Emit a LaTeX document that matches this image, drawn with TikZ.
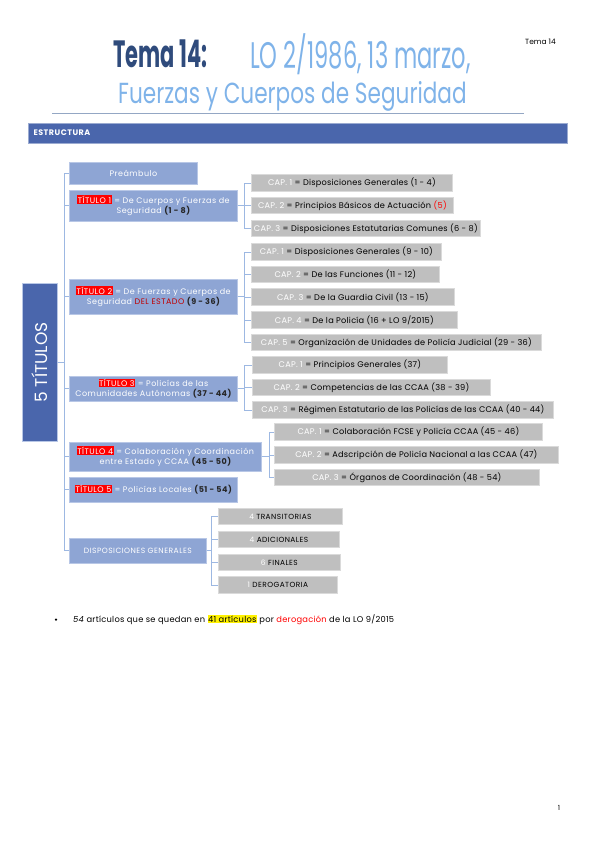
\documentclass[tikz,border=0pt]{standalone}
\usepackage{fontspec}
\setmainfont{Poppins}
\usepackage{xcolor}
\usepackage{graphicx}
\usetikzlibrary{positioning}
\definecolor{titfill}{HTML}{8EA5D4}
\definecolor{titline}{HTML}{B8C7E6}
\definecolor{capfill}{HTML}{BFBFBF}
\definecolor{capline}{HTML}{DADADA}
\definecolor{deepblue}{HTML}{4A66AC}
\definecolor{conn}{HTML}{9DB8E2}
\definecolor{temablue}{HTML}{2F4B7C}
\definecolor{lightblue}{HTML}{7FB3E9}
\definecolor{darkred}{HTML}{C00000}
\newfontfamily\boxfont[LetterSpace=6]{Poppins}
\newfontfamily\capfont[LetterSpace=3]{Poppins}
\newcommand{\tit}[1]{{\fboxsep=0.6pt\colorbox{red}{T\'ITULO #1}}}
\newcommand{\arts}[1]{\textcolor{black!85}{\bfseries #1}}
\newcommand{\capno}[1]{\textcolor{white}{CAP. #1}}

\begin{document}
\begin{tikzpicture}[x=1pt,y=-1pt,
  dep/.style={
    draw=conn,line width=0.9pt
  },
  tit/.style={
    rectangle,anchor=west,
    fill=titfill,draw=titline,line width=0.8pt,
    minimum width=#1,minimum height=25,
    inner sep=1pt,align=center,
    font=\boxfont\fontsize{8}{10}\selectfont,text=white},
  capbox/.style={
    rectangle,anchor=west,
    fill=capfill,draw=capline,line width=0.8pt,
    minimum width=#1,minimum height=16.5,
    inner sep=1pt,
    font=\capfont\fontsize{8.2}{9}\selectfont,text=black},
]

  \useasboundingbox (0,0) rectangle (599,848);

    % Titulo
    \node[anchor=base west,inner sep=0,text=temablue] (tema) at (113,68)
      {\scalebox{0.55}[1]{\fontsize{38}{38}\selectfont\bfseries Tema 14:}};
    \node[anchor=base west,inner sep=0,text=lightblue] (lo) at (250,69)
      {\scalebox{0.61}[1]{\fontsize{37}{37}\selectfont LO 2/1986, 13 marzo,}};
    \node[anchor=base west,inner sep=0,text=lightblue] (fcs) at (118,103)
      {\scalebox{0.745}[1]{\fontsize{29}{29}\selectfont Fuerzas y Cuerpos de Seguridad}};
    \node[anchor=base west,inner sep=0,font=\fontsize{7.5}{8}\selectfont] (tema14) at (525,45) {Tema 14};
    \draw[conn!70!gray,line width=0.6pt] (52,113) -- (524,113);

    \node[anchor=north west,fill=deepblue,draw=deepblue!55,line width=1pt,
      minimum width=539,minimum height=20,inner sep=0] (bar) at (28,123) {};
    \node[anchor=west,text=white,font=\boxfont\bfseries\fontsize{8}{9}\selectfont] (estr) at (30,133) {ESTRUCTURA};

    % 5 titulos
    \node[anchor=north west,fill=deepblue,draw=titline,line width=0.8pt,
      minimum width=35,minimum height=158,inner sep=0,text=white] (big) at (22,283)
      {\rotatebox{90}{\fontsize{17}{17}\selectfont 5 TÍTULOS}};

    \node[tit=128,minimum height=22] (pre) at (69,173) {Preámbulo};
    \node[tit=168,minimum height=31] (t1) at (69,205.5)
      {\tit{1} = De Cuerpos y Fuerzas de\\Seguridad \arts{(1 - 8)}};
    \node[tit=168,minimum height=35] (t2) at (69,296.5)
      {\tit{2} = De Fuerzas y Cuerpos de\\Seguridad \textcolor{darkred}{DEL ESTADO} \arts{(9 - 36)}};
    \node[tit=168] (t3) at (69,388.5)
      {\tit{3} = Policías de las\\Comunidades Autónomas \arts{(37 - 44)}};
    \node[tit=192,minimum height=29] (t4) at (69,456.5)
      {\tit{4} = Colaboración y Coordinación\\entre Estado y CCAA \arts{(45 - 50)}};
    \node[tit=168] (t5) at (69,489.5) {\tit{5} = Policías Locales \arts{(51 - 54)}};
    \node[tit=137,font=\boxfont\fontsize{7.6}{9}\selectfont] (disp) at (69,550.5) {DISPOSICIONES GENERALES};

    \foreach \t in {pre,t1,t2,t3,t4,t5,disp}
      \draw[dep] (big.east) -- ++(7,0) |- (\t.west);

    % Capitulos titulo 1
    \foreach \n/\yy/\w/\txt in {1/183/201/{Disposiciones Generales (1 - 4)},
        2/205.5/202/{Principios Básicos de Actuación \textcolor{red}{(5)}},
        3/228.5/229/{Disposiciones Estatutarias Comunes (6 - 8)}} {
      \node[capbox=\w] (ca\n) at (251,\yy) {\capno{\n} = \txt};
      \draw[dep] (t1.east) -- ++(7,0) |- (ca\n.west);
    }

    % Capitulos titulo 2
    \foreach \n/\yy/\w/\txt in {1/252/190/{Disposiciones Generales (9 - 10)},
        2/274.5/188/{De las Funciones (11 - 12)},
        3/297/203/{De la Guardia Civil (13 - 15)},
        4/320/206/{De la Policía (16 + LO 9/2015)},
        5/342.5/290/{Organización de Unidades de Policía Judicial (29 - 36)}} {
      \node[capbox=\w] (cb\n) at (251,\yy) {\capno{\n} = \txt};
      \draw[dep] (t2.east) -- ++(7,0) |- (cb\n.west);
    }

    % Capitulos titulo 3
    \foreach \n/\yy/\w/\txt in {1/365/195/{Principios Generales (37)},
        2/387.5/238/{Competencias de las CCAA (38 - 39)},
        3/410/301/{Régimen Estatutario de las Policías de las CCAA (40 - 44)}} {
      \node[capbox=\w] (cc\n) at (252,\yy) {\capno{\n} = \txt};
      \draw[dep] (t3.east) -- ++(7,0) |- (cc\n.west);
    }

    % Capitulos titulo 4
    \foreach \n/\yy/\w/\txt in {1/432/268/{Colaboración FCSE y Policía CCAA (45 - 46)},
        2/455/284/{Adscripción de Policía Nacional a las CCAA (47)},
        3/477.5/265/{Órganos de Coordinación (48 - 54)}} {
      \node[capbox=\w] (cd\n) at (274,\yy) {\capno{\n} = \txt};
      \draw[dep] (t4.east) -- ++(8,0) |- (cd\n.west);
    }

    % Disposiciones
    \foreach \n/\yy/\w/\num/\txt in {1/516.5/124/4/TRANSITORIAS,
        2/539.5/121/4/ADICIONALES,
        3/562.5/122/6/FINALES,
        4/585/119/1/DEROGATORIA} {
      \node[capbox=\w,font=\boxfont\fontsize{7.4}{8}\selectfont] (dg\n) at (218,\yy) {\textcolor{white}{\num} \txt};
      \draw[dep] (disp.east) -- ++(5,0) |- (dg\n.west);
    }

    % Nota
    \node[circle,fill=black,inner sep=0,minimum size=2.5] (punto) at (56,619.5) {};
    \node[anchor=base west,inner sep=0,font=\capfont\fontsize{8.3}{9}\selectfont] (nota) at (73,622)
      {\textit{54} artículos que se quedan en {\fboxsep=0.5pt\colorbox{yellow}{41 artículos}} por \textcolor{red}{derogación} de la LO 9/2015};

    \node[font=\fontsize{7}{8}\selectfont] (pag) at (559,808) {1};

\end{tikzpicture}
\end{document}
